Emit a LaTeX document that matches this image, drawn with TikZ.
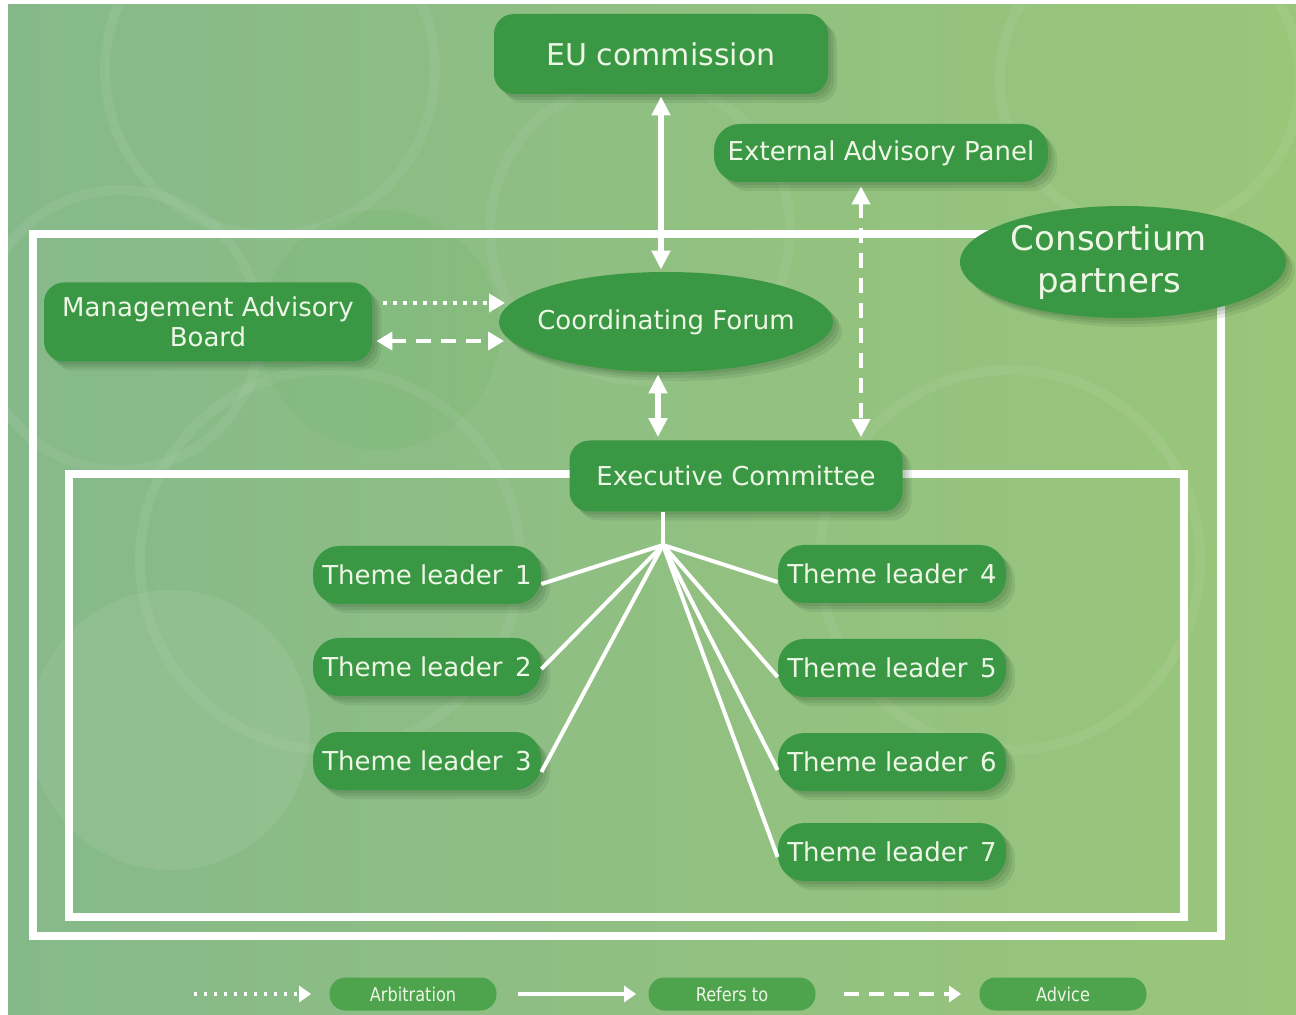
\documentclass[tikz,border=0pt]{standalone}
\usepackage{fontspec}
\setmainfont{DejaVu Sans}
\usetikzlibrary{arrows.meta,shapes.geometric,shadows}
\definecolor{boxgreen}{HTML}{3A9845}
\definecolor{pillgreen}{HTML}{4EA44C}
\definecolor{txt}{HTML}{EEF6E6}
\definecolor{bgL}{HTML}{86B98A}
\definecolor{bgR}{HTML}{9AC67A}
\definecolor{shdcol}{HTML}{1F4A22}
\tikzset{
  shd/.style={
    drop shadow={shadow xshift=1.5pt,shadow yshift=-1.5pt,opacity=0.12,fill=shdcol},
    drop shadow={shadow xshift=3pt,shadow yshift=-3pt,opacity=0.12,fill=shdcol},
    drop shadow={shadow xshift=4.5pt,shadow yshift=-4.5pt,opacity=0.10,fill=shdcol}},
  gbox/.style={shape=rectangle,fill=boxgreen,rounded corners=10pt,text=txt,align=center,inner sep=0pt,shd,font=\fontsize{13}{15}\selectfont},
  gell/.style={shape=ellipse,fill=boxgreen,inner sep=0pt,shd},
  elltext/.style={text=txt,align=center,inner sep=0pt,font=\fontsize{13}{15}\selectfont},
  tlbox/.style={gbox,rounded corners=13pt,minimum width=114pt,minimum height=29pt},
  pill/.style={shape=rectangle,fill=pillgreen,rounded corners=8pt,minimum width=83.5pt,minimum height=16.5pt,inner sep=0pt,text=txt},
  frame/.style={draw=white,line width=4pt},
  wline/.style={draw=white,line width=2.6pt},
  biarrow/.style={wline,{Triangle[length=9.5pt,width=9pt]}-{Triangle[length=9.5pt,width=9pt]}},
  dasharrow/.style={draw=white,line width=2pt,dash pattern=on 7.5pt off 5pt},
  dotline/.style={draw=white,line width=2pt,dash pattern=on 1.6pt off 3.4pt},
  fanline/.style={draw=white,line width=2pt},
  legtext/.style={font=\fontsize{9.5}{11}\selectfont}
}
\newcommand{\legtxt}[1]{\scalebox{0.85}[1]{#1}}
\begin{document}
\begin{tikzpicture}[x=0.5pt,y=-0.5pt]
\useasboundingbox (0,0) rectangle (1296,1015);
\fill[white] (0,0) rectangle (1296,1015);
\shade[left color=bgL,right color=bgR] (8,5) rectangle (1296,1015);
% faint background rings
\begin{scope}[draw=white,line width=5pt,opacity=0.06]
  \draw (270,70) circle (165);
  \draw (120,330) circle (140);
  \draw (640,230) circle (150);
  \draw (1150,80) circle (150);
  \draw (1010,560) circle (190);
  \draw (330,560) circle (190);
\end{scope}
\fill[white,opacity=0.07] (170,730) circle (140);
\fill[black!40!green,opacity=0.04] (380,330) circle (120);

% frames
\draw[frame] (33,234) rectangle (1221,936);
\draw[frame,line width=3.6pt] (69,474) rectangle (1184,917);

% nodes
\node[gbox,minimum width=167pt,minimum height=40pt,font=\fontsize{15}{18}\selectfont] (eu) at (661,54) {EU commission};
\node[gbox,minimum width=167pt,minimum height=29pt,rounded corners=13pt] (eap) at (881,153) {External Advisory Panel};
\node[gell,minimum width=163pt,minimum height=56pt,label={[elltext,font=\fontsize{17}{21}\selectfont,xshift=-7pt]center:Consortium\\partners}] (cp) at (1123,262) {};
\node[gbox,minimum width=164pt,minimum height=39.5pt] (mab) at (208,322) {Management Advisory\\Board};
\node[gell,minimum width=167pt,minimum height=50pt,label={[elltext]center:Coordinating Forum}] (cf) at (666,322) {};
\node[gbox,minimum width=166.5pt,minimum height=35.5pt] (ec) at (736,476) {Executive Committee};

\node[tlbox] (tl1) at (427,575) {Theme leader\, 1};
\node[tlbox] (tl2) at (427,667) {Theme leader\, 2};
\node[tlbox] (tl3) at (427,761) {Theme leader\, 3};
\node[tlbox] (tl4) at (892,574) {Theme leader\, 4};
\node[tlbox] (tl5) at (892,668) {Theme leader\, 5};
\node[tlbox] (tl6) at (892,762) {Theme leader\, 6};
\node[tlbox] (tl7) at (892,852) {Theme leader\, 7};

% connectors
\draw[biarrow,shorten <=1pt,shorten >=1pt] (eu.south) -- (eu.south |- cf.north);
\path ([xshift=-4pt]cf.south) coordinate (cfs);
\draw[biarrow,shorten <=1pt,shorten >=1.5pt] (cfs) -- (cfs |- ec.north);
\coordinate (dx) at (861,0);
\draw[dasharrow,{Triangle[length=9pt,width=9pt]}-{Triangle[length=9pt,width=9pt]},shorten <=2pt,shorten >=1.5pt] (eap.south -| dx) -- (ec.north -| dx);
\draw[dotline,-{Triangle[length=8pt,width=9pt]},shorten <=5.5pt,shorten >=3pt] (mab.east |- cf.173) -- (cf.173);
\draw[dasharrow,{Triangle[length=8pt,width=9pt]}-{Triangle[length=8pt,width=9pt]},shorten <=2pt,shorten >=3.5pt] (mab.east |- cf.187) -- (cf.187);

% fan
\coordinate (fan) at (663,545);
\draw[fanline] (ec.south -| fan) -- (fan);
\draw[fanline] (fan) -- ([yshift=-4.5pt]tl1.east);
\draw[fanline] (fan) -- ([yshift=-1pt]tl2.east);
\draw[fanline] (fan) -- ([yshift=-5.5pt]tl3.east);
\draw[fanline] (fan) -- ([yshift=-4pt]tl4.west);
\draw[fanline] (fan) -- ([yshift=-4.5pt]tl5.west);
\draw[fanline] (fan) -- ([yshift=-4pt]tl6.west);
\draw[fanline] (fan) -- ([yshift=-2.5pt]tl7.west);

% legend
\node[pill,legtext] (arb) at (413,994) {\legtxt{Arbitration}};
\node[pill,legtext] (ref) at (732,994) {\legtxt{Refers to}};
\node[pill,legtext] (adv) at (1063,994) {\legtxt{Advice}};
\coordinate (l1) at (194,994);
\coordinate (l2) at (518,994);
\coordinate (l3) at (844,994);
\draw[dotline,-{Triangle[length=6pt,width=8pt]},shorten >=9pt] (l1) -- (arb.west);
\draw[wline,line width=2pt,-{Triangle[length=6pt,width=8pt]},shorten >=6pt] (l2) -- (ref.west);
\draw[dasharrow,-{Triangle[length=6pt,width=8pt]},shorten >=9pt] (l3) -- (adv.west);
\end{tikzpicture}
\end{document}
